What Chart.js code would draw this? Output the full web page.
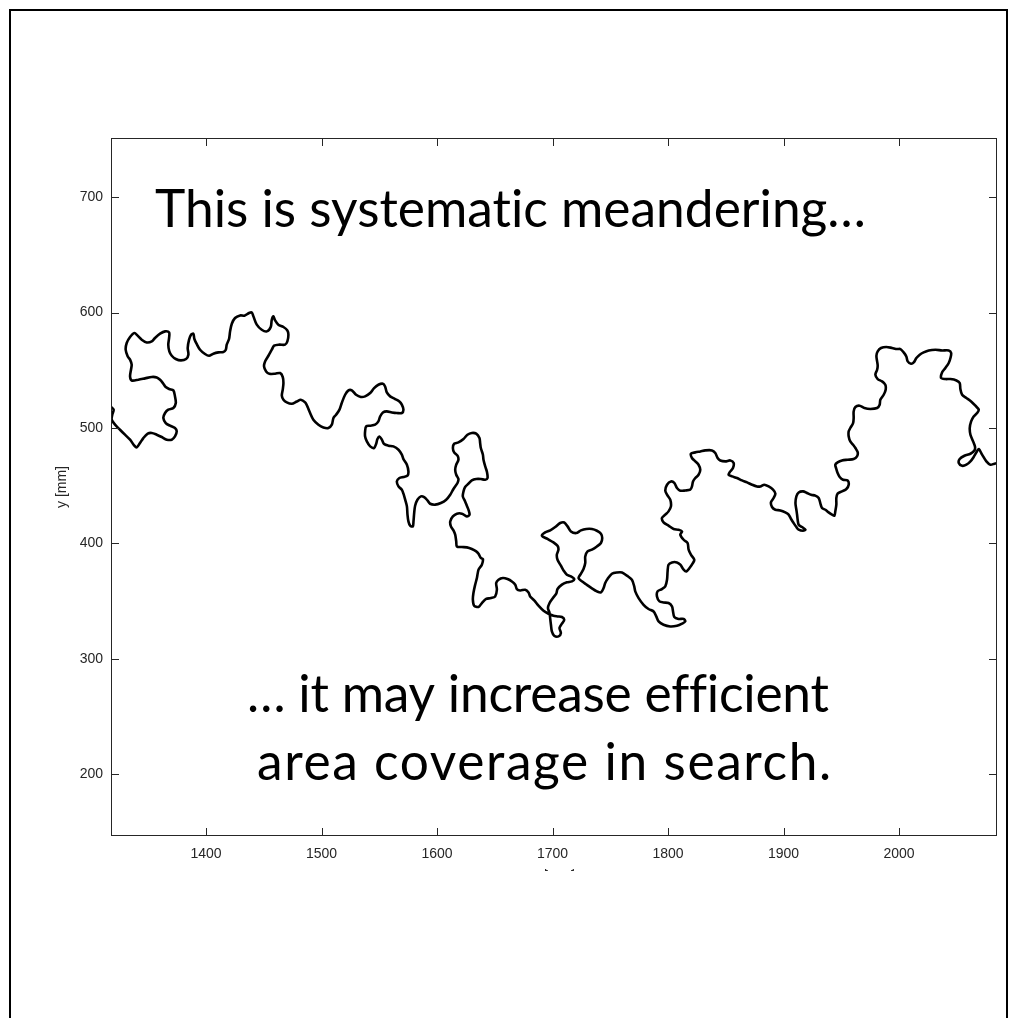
<!DOCTYPE html>
<html>
<head>
<meta charset="utf-8">
<title>Systematic meandering</title>
<script src="https://cdn.jsdelivr.net/npm/chart.js@4.4.1/dist/chart.umd.min.js"></script>
<style>
  html, body { margin: 0; padding: 0; background: #fff; }
  canvas { display: block; }
</style>
</head>
<body>
<canvas id="track-chart" width="1009" height="1018"></canvas>
<script>
/* global Chart */

// Axis ranges and tick values (mm)
const xLimits = [1317.7, 2084.8];
const yLimits = [146.6, 751.2];
const xTicks = [1400, 1500, 1600, 1700, 1800, 1900, 2000];
const yTicks = [200, 300, 400, 500, 600, 700];

const xTitle = 'x [mm]';
const yTitle = 'y [mm]';
const noteLines = [
    'This is systematic meandering\u2026',
    '\u2026 it may increase efficient',
    'area coverage in search.'
];

const trackPoints = [
    [1317.7,518.2],[1320.0,515.9],[1318.8,511.5],[1318.3,507.2],[1321.2,502.9],[1325.5,498.5],[1329.8,494.2],[1334.2,489.9],
    [1337.9,484.7],[1340.0,483.2],[1342.8,487.0],[1345.7,491.3],[1349.5,495.1],[1353.0,495.7],[1357.3,494.2],[1361.6,492.2],
    [1366.0,489.9],[1370.3,489.9],[1373.1,492.7],[1374.6,497.1],[1373.1,500.0],[1368.8,502.0],[1365.1,504.3],[1363.0,508.7],
    [1364.5,513.0],[1367.3,515.9],[1371.7,517.3],[1373.8,521.7],[1373.1,527.4],[1371.7,532.6],[1368.0,533.8],[1365.1,535.5],
    [1363.0,538.4],[1360.2,541.8],[1357.3,543.8],[1353.0,544.2],[1347.2,543.0],[1341.4,541.8],[1335.6,541.2],[1334.2,544.7],
    [1335.0,550.5],[1335.6,554.8],[1334.2,559.2],[1332.2,562.0],[1330.4,567.8],[1331.3,573.6],[1334.2,578.8],[1337.9,582.3],
    [1340.8,580.0],[1344.3,576.5],[1348.6,574.1],[1353.0,575.0],[1355.8,578.0],[1360.2,581.7],[1364.5,583.7],[1368.0,582.8],
    [1368.0,578.0],[1367.3,572.2],[1368.2,566.4],[1370.3,562.6],[1373.8,559.8],[1378.3,558.6],[1382.7,559.8],[1384.7,563.5],
    [1384.1,569.3],[1385.3,576.5],[1387.0,580.8],[1389.0,581.7],[1389.9,577.1],[1391.9,572.8],[1394.8,567.8],[1399.1,564.1],
    [1402.6,562.6],[1406.3,564.4],[1410.7,565.5],[1415.0,565.8],[1417.1,567.8],[1417.9,572.2],[1419.9,577.1],[1420.8,583.7],
    [1422.3,590.3],[1425.1,595.3],[1429.5,597.5],[1433.2,597.3],[1437.2,599.6],[1439.6,600.1],
    [1441.0,596.7],[1443.9,589.5],[1448.2,585.1],[1452.6,583.7],[1456.0,587.5],[1456.9,593.8],[1458.3,596.7],[1459.8,593.2],
    [1462.6,589.5],[1467.0,587.5],[1470.4,584.5],[1471.3,580.8],[1470.4,575.0],[1468.4,572.2],[1463.5,572.2],[1458.9,571.3],
    [1456.9,567.8],[1454.0,562.6],[1451.1,557.7],[1450.2,553.4],[1452.0,549.0],[1454.8,547.0],[1459.8,547.0],[1464.1,547.6],
    [1466.4,544.2],[1467.0,539.0],[1466.4,533.2],[1465.6,528.0],[1467.0,524.5],[1469.9,522.2],[1474.2,521.0],[1478.6,523.0],
    [1482.0,524.5],[1485.8,522.2],[1487.7,518.7],[1490.1,513.0],[1492.9,507.2],[1497.3,502.9],[1501.6,500.5],[1505.9,500.0],
    [1508.9,502.9],[1510.3,508.7],[1512.6,511.5],[1515.5,515.9],[1517.5,521.7],[1520.4,528.8],[1523.3,532.6],[1526.2,532.6],
    [1529.9,528.8],[1534.0,526.9],[1537.7,527.4],[1542.1,530.3],[1545.5,534.6],[1549.2,537.5],[1553.1,538.4],[1555.0,536.0],
    [1556.5,530.8],[1559.4,527.4],[1563.7,525.1],[1567.4,523.0],[1569.5,520.2],[1570.9,515.9],[1569.5,513.0],[1565.2,513.0],
    [1560.9,513.5],[1556.5,514.4],[1553.1,513.5],[1550.7,510.0],[1549.2,505.7],[1546.4,502.9],[1542.1,502.0],[1538.6,501.4],
    [1537.7,497.1],[1537.7,492.7],[1539.2,488.4],[1542.1,484.1],[1545.5,482.7],[1547.3,486.4],[1548.4,490.5],[1550.1,492.7],
    [1552.2,489.9],[1554.2,486.1],[1557.9,484.7],[1562.2,484.1],[1566.6,481.2],[1569.5,476.9],[1570.9,473.1],
    [1573.9,468.2],[1575.2,462.4],[1574.4,458.7],[1570.9,457.6],[1567.4,456.7],[1565.2,453.7],[1566.6,449.4],[1569.5,446.6],
    [1570.9,443.1],[1572.4,437.9],[1573.9,432.1],[1574.4,424.9],[1575.2,419.1],[1576.7,415.4],[1579.0,414.8],[1579.6,419.1],
    [1580.2,426.4],[1581.0,432.7],[1583.0,437.9],[1586.0,440.8],[1588.8,440.2],[1591.7,437.3],[1594.0,434.4],[1598.4,433.6],
    [1603.3,435.0],[1607.9,437.9],[1611.4,442.2],[1614.2,447.2],[1617.7,452.4],[1618.5,455.8],[1616.6,459.5],[1615.7,463.9],
    [1616.6,468.2],[1618.5,472.5],[1617.7,476.0],[1614.8,478.9],[1613.7,482.7],[1614.8,486.4],[1618.5,487.5],[1622.9,490.5],
    [1626.3,494.2],[1630.1,495.7],[1633.9,495.1],[1636.7,491.3],[1637.3,487.0],[1637.9,482.7],[1639.7,476.9],[1640.2,472.5],
    [1641.7,466.7],[1643.1,462.4],[1643.7,456.7],[1641.7,455.2],[1637.9,455.8],[1633.9,455.8],[1630.1,454.6],[1627.2,451.8],
    [1624.3,448.9],[1622.9,445.1],[1622.3,440.8],[1624.3,436.4],[1625.8,432.7],[1627.2,429.2],[1628.1,424.9],[1625.8,423.4],
    [1621.5,425.8],[1617.2,425.8],[1613.7,423.4],[1611.4,419.1],[1612.0,414.8],[1614.2,411.3],[1615.7,407.6],[1616.6,401.8],
    [1617.2,397.4],[1621.5,396.9],[1625.8,396.6],[1630.1,395.2],[1633.9,393.1],[1635.9,391.1],[1637.9,387.4],
    [1639.7,386.5],[1638.8,381.6],[1635.9,377.3],[1634.5,370.1],[1633.0,364.3],[1631.5,357.1],[1631.0,351.3],[1632.1,346.1],
    [1635.9,345.0],[1638.8,348.4],[1642.5,351.9],[1646.6,352.7],[1650.3,354.1],[1651.8,359.9],[1651.2,365.7],[1653.2,368.6],
    [1657.0,370.1],[1661.0,369.2],[1664.8,367.1],[1667.7,364.3],[1669.1,360.5],[1672.0,359.3],[1676.3,359.9],[1679.2,357.6],
    [1680.6,354.1],[1684.1,350.7],[1687.8,346.1],[1692.2,341.7],[1696.5,339.1],[1700.8,337.4],[1704.3,336.8],[1708.1,336.3],
    [1710.1,334.0],[1708.1,330.5],[1706.0,326.8],[1707.2,322.4],[1705.2,319.5],[1701.4,320.1],[1699.4,323.8],[1698.6,329.6],
    [1698.0,334.6],[1697.4,339.8],[1696.0,344.1],[1697.4,348.4],[1700.3,352.7],[1703.2,356.5],[1704.3,360.5],[1708.1,364.3],
    [1712.4,366.3],[1716.8,367.1],[1718.8,369.2],[1715.9,371.4],[1712.4,372.9],[1709.5,376.6],[1707.2,380.7],[1704.3,385.9],
    [1703.7,390.3],[1705.1,394.6],[1704.3,398.0],[1700.8,400.9],[1695.6,403.9],[1690.8,406.7],[1693.6,409.6],[1698.0,411.3],
    [1702.3,414.2],[1706.6,417.7],[1710.1,418.2],[1713.0,414.8],[1715.9,410.4],[1720.5,409.0],[1724.6,411.3],[1729.2,412.5],
    [1734.1,412.5],[1738.4,411.0],[1741.9,408.4],[1743.0,404.7],[1741.9,400.4],[1738.4,397.4],[1734.1,394.6],[1730.3,393.1],
    [1728.3,388.8],[1728.3,383.1],[1726.8,377.9],[1724.6,373.8],[1722.5,370.1],[1725.4,367.2],[1729.8,364.1],[1734.1,361.1],
    [1738.4,358.5],[1741.9,357.6],[1744.2,361.4],[1745.6,365.7],[1747.6,369.2],
    [1751.4,373.8],[1755.7,374.9],[1760.1,374.9],[1764.4,372.1],[1768.7,368.6],[1770.7,362.8],[1771.6,358.5],[1774.5,352.7],
    [1778.8,346.9],[1783.1,343.2],[1787.5,341.1],[1789.8,336.8],[1791.8,332.5],[1796.1,329.6],[1801.9,328.1],[1807.7,328.7],
    [1812.1,330.5],[1814.9,332.5],[1813.5,334.6],[1809.1,334.6],[1805.4,336.3],[1804.3,341.1],[1803.4,345.5],[1800.4,348.4],
    [1796.1,348.9],[1792.6,349.8],[1790.4,354.1],[1790.9,358.5],[1794.7,360.5],[1797.6,362.8],[1799.1,368.6],[1799.6,375.8],
    [1800.4,381.6],[1803.4,383.6],[1807.7,383.6],[1810.6,381.6],[1813.5,377.3],[1815.8,375.8],[1818.6,378.7],[1821.6,383.1],
    [1822.7,385.9],[1819.8,390.3],[1817.8,394.6],[1816.9,400.4],[1813.5,403.2],[1810.6,407.6],[1812.1,410.4],[1809.1,411.9],
    [1804.8,412.5],[1800.4,415.4],[1796.1,418.2],[1794.7,422.0],[1797.6,424.9],[1800.4,427.8],[1802.5,432.1],[1801.9,437.9],
    [1799.1,442.2],[1797.6,445.9],[1799.1,450.9],[1802.5,453.7],[1805.4,452.4],[1807.7,448.0],[1810.6,445.7],[1814.9,445.9],
    [1819.2,446.6],[1820.7,449.4],[1821.6,453.7],[1823.6,456.7],[1826.4,459.5],[1827.9,463.9],[1826.4,468.2],[1823.6,471.1],
    [1820.7,474.0],[1819.8,477.7],[1823.6,478.9],[1827.9,479.7],[1832.2,480.6],[1838.0,480.6],[1840.9,478.3],[1842.9,474.0],
    [1845.2,471.9],[1849.6,471.1],[1853.9,471.9],[1856.8,469.7],[1856.2,465.4],[1853.9,462.4],[1852.4,459.5],[1855.4,458.1],
    [1859.7,456.7],[1864.0,454.6],[1868.4,452.9],[1872.7,450.9],[1877.0,449.4],
    [1879.9,449.4],[1883.3,450.9],[1887.1,449.4],[1890.9,446.6],[1892.9,443.1],[1891.4,439.4],[1889.1,435.6],[1890.0,431.6],
    [1892.9,429.2],[1897.2,428.6],[1901.5,426.9],[1904.4,424.9],[1906.5,421.2],[1908.7,417.7],[1911.1,414.2],[1913.1,411.9],
    [1916.9,411.0],[1918.9,411.9],[1916.0,414.2],[1913.1,416.2],[1912.2,420.6],[1911.7,424.9],[1911.1,429.2],[1910.3,435.0],
    [1911.1,440.8],[1913.1,444.2],[1916.9,445.1],[1920.3,443.7],[1923.8,442.2],[1927.5,441.4],[1930.4,439.4],[1931.8,435.0],
    [1933.3,430.7],[1936.2,429.2],[1939.0,426.9],[1942.0,424.9],[1944.0,424.0],[1944.8,427.8],[1945.7,433.6],[1945.7,439.4],
    [1946.8,443.1],[1950.6,445.1],[1954.4,447.2],[1956.4,450.9],[1955.5,454.6],[1951.5,455.2],[1948.6,457.6],[1946.8,461.0],
    [1945.7,464.5],[1944.8,468.2],[1946.8,470.2],[1950.6,471.9],[1955.5,472.5],[1960.7,473.1],[1963.6,475.4],[1964.2,478.9],
    [1962.2,482.7],[1960.2,485.5],[1957.8,488.4],[1956.4,492.7],[1956.4,497.1],[1957.8,500.0],[1960.2,504.3],[1960.7,508.7],
    [1960.7,514.4],[1962.2,518.2],[1965.9,519.3],[1970.0,517.3],[1975.2,516.5],[1981.0,517.3],[1983.2,520.2],[1983.8,524.5],
    [1986.7,528.8],[1988.4,533.2],[1988.1,537.5],[1985.3,540.4],[1981.5,542.4],[1979.5,546.2],[1981.0,550.5],[1981.5,554.0],
    [1981.0,557.7],[1980.4,562.6],[1981.5,566.4],[1984.4,569.3],[1989.0,570.2],[1994.0,569.3],[1998.3,568.4],
    [2001.2,568.4],[2004.0,565.5],[2006.3,562.0],[2007.5,557.7],[2010.4,555.7],[2012.7,556.8],[2015.0,560.6],[2017.9,563.5],
    [2021.3,565.5],[2025.7,567.2],[2031.5,567.8],[2037.3,567.2],[2043.0,567.2],[2045.1,565.0],[2044.5,560.6],[2043.0,556.3],
    [2040.1,552.0],[2037.3,548.2],[2036.4,543.3],[2040.1,542.4],[2044.5,542.4],[2049.7,541.2],[2052.5,539.0],[2053.1,533.8],
    [2054.6,528.8],[2058.3,526.0],[2062.4,523.0],[2066.1,519.3],[2069.0,515.9],[2067.6,513.0],[2064.6,510.0],[2062.4,505.7],
    [2061.2,500.0],[2061.8,494.2],[2064.1,488.4],[2065.8,483.5],[2065.2,480.6],[2061.8,477.7],[2056.6,476.0],[2052.5,473.1],
    [2051.7,469.7],[2054.6,467.3],[2058.3,468.2],[2061.8,471.1],[2064.6,474.9],[2067.0,478.9],[2069.0,481.8],[2071.9,476.9],
    [2075.6,471.1],[2079.1,468.2],[2082.6,469.1],[2085.4,469.7]
];

const AXIS_COLOR = '#262626';
const TICK_FONT = { family: '"Liberation Sans", Arial, sans-serif', size: 14 };
const NOTE_FAMILY = 'Lato, "Open Sans", sans-serif';

// Font size that makes `text` span `targetWidth` pixels
function fitFontSize(ctx, text, targetWidth) {
    ctx.letterSpacing = '0.01px';
    ctx.font = `100px ${NOTE_FAMILY}`;
    const w = ctx.measureText(text).width;
    return 100 * targetWidth / w;
}

// Letter spacing (px) that stretches `text` to `targetWidth` at the current font
function fitSpacing(ctx, text, targetWidth) {
    ctx.letterSpacing = '0.01px';
    const w = ctx.measureText(text).width;
    return (targetWidth - w) / text.length;
}

// Background, axes box with inward ticks on all sides, titles and the slide notes
const slideDecor = {
    id: 'slideDecor',
    beforeDraw(chart) {
        const { ctx, width, height } = chart;
        ctx.save();
        ctx.fillStyle = '#ffffff';
        ctx.fillRect(0, 0, width, height);
        ctx.restore();
    },
    afterDraw(chart) {
        const { ctx, chartArea: a, scales } = chart;
        const tickLen = 8;
        ctx.save();

        // axes box
        ctx.strokeStyle = AXIS_COLOR;
        ctx.lineWidth = 1;
        ctx.strokeRect(Math.round(a.left) + 0.5, Math.round(a.top) + 0.5,
            Math.round(a.right - a.left) - 1, Math.round(a.bottom - a.top) - 1);

        ctx.beginPath();
        xTicks.forEach(v => {
            const px = Math.round(scales.x.getPixelForValue(v)) + 0.5;
            ctx.moveTo(px, a.bottom); ctx.lineTo(px, a.bottom - tickLen);
            ctx.moveTo(px, a.top); ctx.lineTo(px, a.top + tickLen);
        });
        yTicks.forEach(v => {
            const py = Math.round(scales.y.getPixelForValue(v)) + 0.5;
            ctx.moveTo(a.left, py); ctx.lineTo(a.left + tickLen, py);
            ctx.moveTo(a.right, py); ctx.lineTo(a.right - tickLen, py);
        });
        ctx.stroke();

        // y title, rotated
        ctx.fillStyle = AXIS_COLOR;
        ctx.font = `14px ${TICK_FONT.family}`;
        ctx.textAlign = 'center';
        ctx.textBaseline = 'middle';
        ctx.save();
        ctx.translate(62, (a.top + a.bottom) / 2);
        ctx.rotate(-Math.PI / 2);
        ctx.fillText(yTitle, 0, 0);
        ctx.restore();

        // x title: only its lowest pixels show below the text box in the original
        ctx.save();
        ctx.beginPath();
        ctx.rect(0, 869, chart.width, 40);
        ctx.clip();
        ctx.textBaseline = 'alphabetic';
        ctx.fillText(xTitle, (a.left + a.right) / 2, 868);
        ctx.restore();

        // slide notes (no ligatures, like the original)
        ctx.textRendering = 'optimizeSpeed';
        const size = fitFontSize(ctx, noteLines[0], 711);
        ctx.font = `${size}px ${NOTE_FAMILY}`;
        ctx.fillStyle = '#000000';
        ctx.textAlign = 'left';
        ctx.textBaseline = 'alphabetic';
        ctx.letterSpacing = '0.01px';
        ctx.fillText(noteLines[0], 155, 227);
        const s1 = fitSpacing(ctx, noteLines[1], 582);
        ctx.letterSpacing = `${s1}px`;
        ctx.fillText(noteLines[1], 247, 712);
        const s2 = fitSpacing(ctx, noteLines[2], 576);
        ctx.letterSpacing = `${s2}px`;
        ctx.fillText(noteLines[2], 257, 780);
        ctx.letterSpacing = '0px';

        // slide frame
        ctx.strokeStyle = '#000000';
        ctx.lineWidth = 2;
        ctx.beginPath();
        ctx.moveTo(10, chart.height);
        ctx.lineTo(10, 10);
        ctx.lineTo(1007, 10);
        ctx.lineTo(1007, chart.height);
        ctx.stroke();

        ctx.restore();
    }
};

const ctx = document.getElementById('track-chart').getContext('2d');

new Chart(ctx, {
    type: 'scatter',
    data: {
        datasets: [{
            label: 'track',
            data: trackPoints.map(p => ({ x: p[0], y: p[1] })),
            showLine: true,
            borderColor: '#000000',
            borderWidth: 2.6,
            pointRadius: 0,
            tension: 0.3,
            fill: false
        }]
    },
    options: {
        responsive: false,
        devicePixelRatio: 1,
        animation: false,
        // chart area ends up at left 111, top 138, right 997, bottom 836
        layout: { padding: { left: 0, top: 138, right: 12, bottom: 0 } },
        scales: {
            x: {
                type: 'linear',
                min: xLimits[0],
                max: xLimits[1],
                afterBuildTicks: scale => { scale.ticks = xTicks.map(v => ({ value: v })); },
                afterFit: scale => { scale.height = 182; },
                grid: { display: false, drawTicks: false },
                border: { display: false },
                ticks: {
                    padding: 10,
                    color: AXIS_COLOR,
                    font: TICK_FONT,
                    maxRotation: 0,
                    autoSkip: false,
                    callback: v => String(v)
                }
            },
            y: {
                type: 'linear',
                min: yLimits[0],
                max: yLimits[1],
                afterBuildTicks: scale => { scale.ticks = yTicks.map(v => ({ value: v })); },
                afterFit: scale => { scale.width = 111; },
                grid: { display: false, drawTicks: false },
                border: { display: false },
                ticks: {
                    padding: 8,
                    color: AXIS_COLOR,
                    font: TICK_FONT,
                    autoSkip: false,
                    callback: v => String(v)
                }
            }
        },
        plugins: {
            legend: { display: false },
            tooltip: { enabled: false }
        }
    },
    plugins: [slideDecor]
});
</script>
</body>
</html>
